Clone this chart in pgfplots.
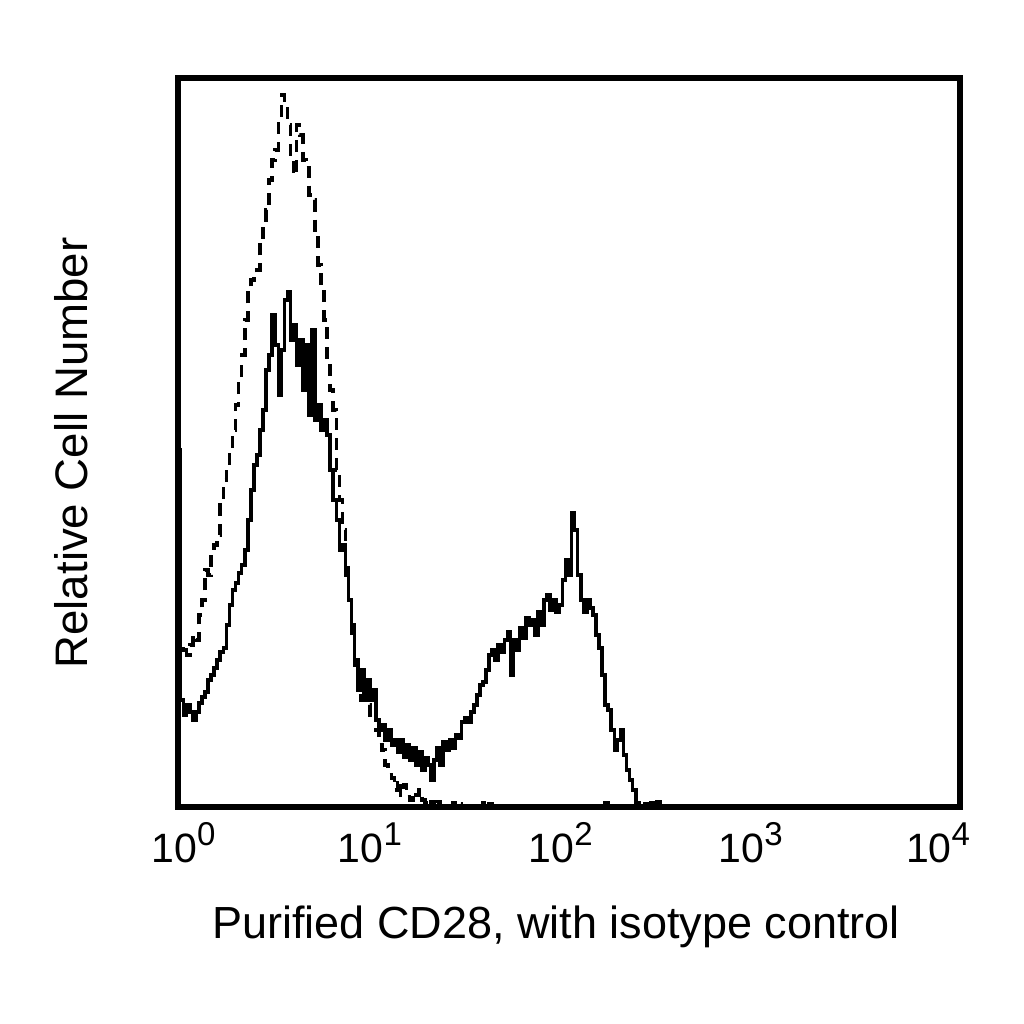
\documentclass[border=0pt]{standalone}
\usepackage{fontspec}
\setmainfont{Liberation Sans}
\usepackage{pgfplots}
\usepackage{pgfplotstable}
\pgfplotsset{compat=1.18}

% channel (256 per 4 decades) vs. relative count
\pgfplotstableread{
ch h
0 357
1 107
2 92
3 102
4 95
5 87
6 95
7 104
8 110
9 115
10 127
11 132
12 139
13 147
14 155
15 159
16 182
17 202
18 217
19 224
20 234
21 242
22 257
23 287
24 317
25 342
26 352
27 377
28 397
29 437
30 452
31 492
32 462
33 412
34 457
35 507
36 515
37 467
38 482
39 442
40 467
41 417
42 462
43 392
44 477
45 387
46 402
47 377
48 387
49 372
50 337
51 307
52 287
53 257
54 262
55 232
56 207
57 182
58 147
59 117
60 137
61 107
62 127
63 107
64 117
65 87
66 77
67 82
68 67
69 77
70 62
71 67
72 55
73 67
74 50
75 62
76 47
77 59
78 42
79 55
80 37
81 49
82 42
83 27
84 47
85 59
86 42
87 65
88 57
89 67
90 59
91 72
92 69
93 85
94 89
95 85
96 95
97 102
98 112
99 122
100 125
101 137
102 152
103 157
104 147
105 162
106 155
107 167
108 175
109 132
110 167
111 157
112 179
113 169
114 189
115 182
116 187
117 172
118 195
119 182
120 207
121 212
122 197
123 207
124 195
125 202
126 227
127 247
128 232
129 294
130 277
131 232
132 207
133 195
134 207
135 199
136 192
137 172
138 159
139 132
140 102
141 97
142 77
143 57
144 67
145 77
146 52
147 37
148 27
149 17
150 4
151 0
152 0
153 3
154 0
155 4
156 2
157 5
158 0
256 0
}\cdtwentyeight

\pgfplotstableread{
ch h
0 300
1 157
2 162
3 152
4 162
5 172
6 167
7 192
8 207
9 237
10 232
11 257
12 262
13 272
14 302
15 327
16 342
17 357
18 377
19 402
20 427
21 452
22 487
23 517
24 527
25 532
26 537
27 567
28 582
29 597
30 627
31 647
32 657
33 687
34 712
35 702
36 682
37 647
38 632
39 682
40 672
41 647
42 639
43 612
44 607
45 577
46 542
47 517
48 487
49 447
50 417
51 397
52 337
53 307
54 277
55 247
56 207
57 167
58 142
59 117
60 107
61 127
62 102
63 92
64 97
65 77
66 62
67 57
68 42
69 32
70 29
71 17
72 27
73 12
74 22
75 10
76 7
77 15
78 12
79 17
80 7
81 4
82 0
83 5
84 0
85 5
86 0
90 4
91 0
92 3
93 0
100 4
101 0
102 3
103 0
140 4
141 0
256 0
}\isotype

\newcommand{\dec}[1]{10\raisebox{8.5pt}{\fontsize{16.5}{16.5}\selectfont #1}}

\begin{document}
\begin{tikzpicture}
\useasboundingbox (0,0) rectangle (512pt,512pt);
\begin{axis}[
    at={(88.75pt,108.5pt)}, anchor=south west,
    scale only axis, width=391pt, height=364.5pt,
    xmin=0, xmax=256, ymin=0, ymax=729,
    axis line style={line width=3pt},
    axis on top,
    ytick=\empty,
    xtick={2,63,125.5,187.7,249},
    xticklabels={\dec{0},\dec{1},\dec{2},\dec{3},\dec{4}},
    major tick length=0pt,
    xticklabel style={anchor=base, yshift=-27.5pt, font=\fontsize{20.5}{20.5}\selectfont},
    xlabel={Purified CD28, with isotype control},
    xlabel style={at={(axis description cs:0.484,-0.1797)}, anchor=base,
                  font=\fontsize{22.5}{22.5}\selectfont},
    ylabel={Relative Cell Number},
    ylabel style={at={(axis description cs:-0.1145,0.4856)}, anchor=base,
                  font=\fontsize{22.8}{22.8}\selectfont},
]
\addplot[const plot, black, line width=1.8pt, dash pattern=on 6pt off 4pt] table[x=ch, y=h] {\isotype};
\addplot[const plot, black, line width=1.8pt] table[x=ch, y=h] {\cdtwentyeight};
\end{axis}
\end{tikzpicture}
\end{document}
